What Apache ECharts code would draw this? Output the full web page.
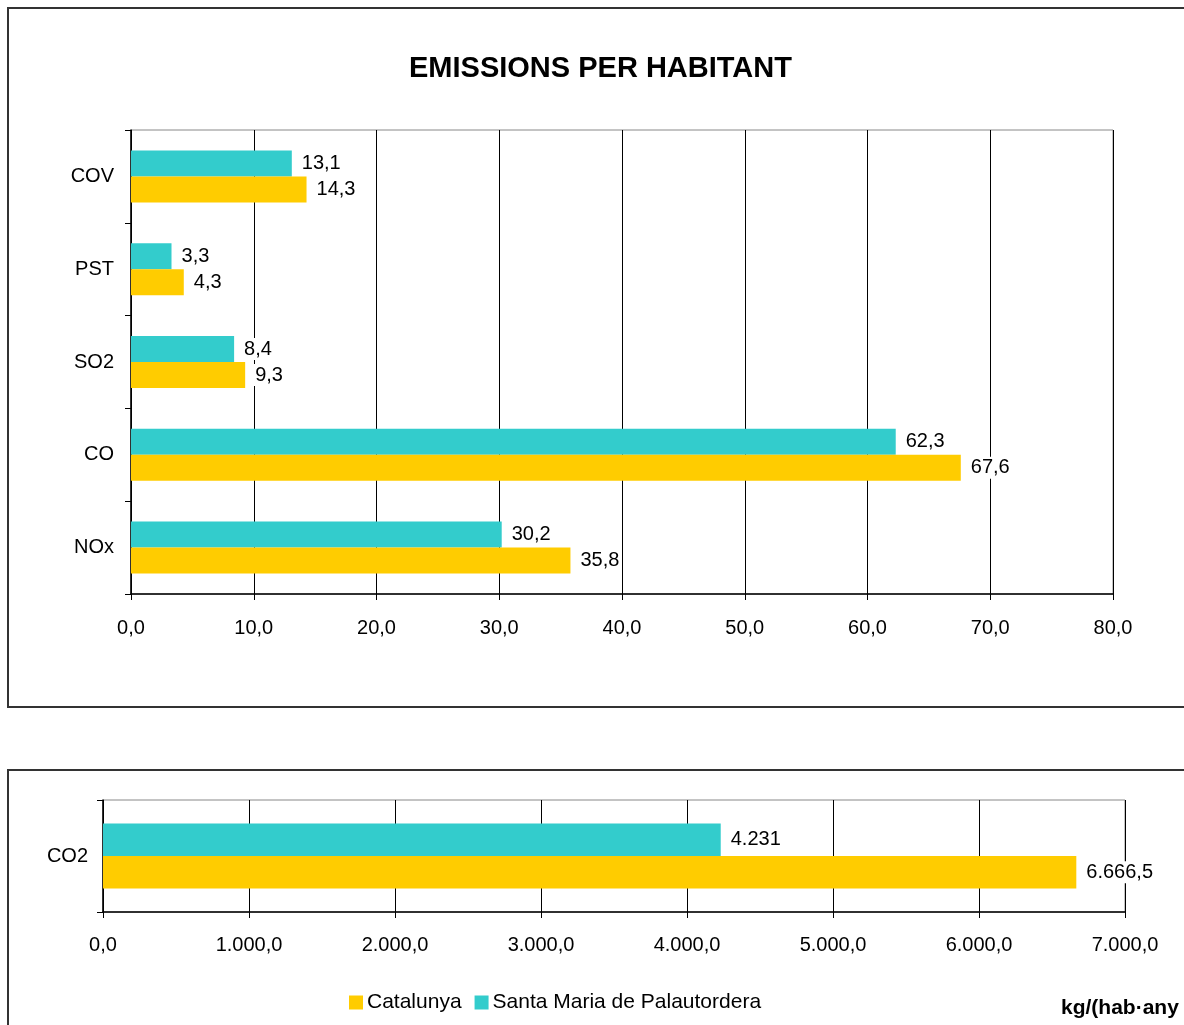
<!DOCTYPE html>
<html><head><meta charset="utf-8">
<script src="https://cdn.jsdelivr.net/npm/echarts@6/dist/echarts.min.js"></script>
<style>html,body{margin:0;padding:0;background:#fff;}#c{width:1184px;height:1025px;}</style>
</head><body><div id="c"></div>
<script>
const categories = ['NOx', 'CO', 'SO2', 'PST', 'COV'];
const catalunya = [35.8, 67.6, 9.3, 4.3, 14.3];
const santaMaria = [30.2, 62.3, 8.4, 3.3, 13.1];
const co2Categories = ['CO2'];
const co2Catalunya = [6666.5];
const co2SantaMaria = [4231];
const topTicks = {min: 0, max: 80, interval: 10};
const bottomTicks = {min: 0, max: 7000, interval: 1000};

function fmt(v, dec) {
  const neg = v < 0; v = Math.abs(v);
  let s = dec === null ? String(v) : v.toFixed(dec);
  let parts = s.split('.');
  let ip = parts[0].replace(/\B(?=(\d{3})+(?!\d))/g, '.');
  return (neg ? '-' : '') + ip + (parts[1] ? ',' + parts[1] : '');
}
const FONT = 'Liberation Sans, Arial, sans-serif';
const FS = 20;
const YELLOW = '#FFCC00', TEAL = '#33CCCC';

const chart = echarts.init(document.getElementById('c'), null, {renderer: 'canvas'});
const lbl = {show: true, position: 'right', distance: 8, color: '#000', fontSize: FS, fontFamily: FONT,
  backgroundColor: '#fff', padding: [1, 2, 1, 2], formatter: p => fmt(p.value, null)};
const tickStyle = {lineStyle: {color: '#000', width: 1}};
chart.setOption({
  animation: false,
  title: [
    {text: 'EMISSIONS PER HABITANT', left: 404, top: 49,
     textStyle: {fontSize: 29, fontWeight: 'bold', fontFamily: FONT, color: '#000'}},
    {text: 'kg/(hab·any', left: 1056, top: 993,
     textStyle: {fontSize: 21, fontWeight: 'bold', fontFamily: FONT, color: '#000'}}
  ],
  graphic: [
    {type: 'rect', shape: {x: 8, y: 8, width: 1200, height: 699}, style: {fill: null, stroke: '#333', lineWidth: 2}, z: -1},
    {type: 'rect', shape: {x: 8, y: 770, width: 1200, height: 300}, style: {fill: null, stroke: '#333', lineWidth: 2}, z: -1}
  ],
  legend: {
    data: ['Catalunya', 'Santa Maria de Palautordera'],
    left: 344, top: 987, itemWidth: 14, itemHeight: 14, itemGap: 13, icon: 'rect',
    textStyle: {fontSize: 21, fontFamily: FONT, color: '#000', padding: [0, 0, 0, -1]}
  },
  grid: [
    {left: 131, right: 71, top: 130, height: 464, show: true, borderColor: '#888', borderWidth: 1, containLabel: false},
    {left: 103, right: 59, top: 800, height: 112, show: true, borderColor: '#888', borderWidth: 1, containLabel: false}
  ],
  xAxis: [
    {gridIndex: 0, type: 'value', min: topTicks.min, max: topTicks.max, interval: topTicks.interval,
     axisLine: {show: true, lineStyle: {color: '#000', width: 1.5}},
     axisTick: {show: true, length: 6, ...tickStyle},
     splitLine: {show: true, lineStyle: {color: '#000', width: 1}},
     axisLabel: {fontSize: FS, fontFamily: FONT, color: '#000', margin: 24, formatter: v => fmt(v, 1)}},
    {gridIndex: 1, type: 'value', min: bottomTicks.min, max: bottomTicks.max, interval: bottomTicks.interval,
     axisLine: {show: true, lineStyle: {color: '#000', width: 1.5}},
     axisTick: {show: true, length: 6, ...tickStyle},
     splitLine: {show: true, lineStyle: {color: '#000', width: 1}},
     axisLabel: {fontSize: FS, fontFamily: FONT, color: '#000', margin: 23, formatter: v => fmt(v, 1)}}
  ],
  yAxis: [
    {gridIndex: 0, type: 'category', data: categories,
     axisLine: {show: true, lineStyle: {color: '#000', width: 1.5}},
     axisTick: {show: true, length: 6, ...tickStyle},
     axisLabel: {fontSize: FS, fontFamily: FONT, color: '#000', margin: 17}},
    {gridIndex: 1, type: 'category', data: co2Categories,
     axisLine: {show: true, lineStyle: {color: '#000', width: 1.5}},
     axisTick: {show: true, length: 6, ...tickStyle},
     axisLabel: {fontSize: FS, fontFamily: FONT, color: '#000', margin: 15}}
  ],
  series: [
    {name: 'Santa Maria de Palautordera', type: 'bar', xAxisIndex: 0, yAxisIndex: 0, data: santaMaria,
     itemStyle: {color: TEAL}, barGap: '0%', barCategoryGap: '44%', label: {...lbl, formatter: p => fmt(p.value, 1)}},
    {name: 'Catalunya', type: 'bar', xAxisIndex: 0, yAxisIndex: 0, data: catalunya,
     itemStyle: {color: YELLOW}, barGap: '0%', barCategoryGap: '44%', label: {...lbl, formatter: p => fmt(p.value, 1)}},
    {name: 'Santa Maria de Palautordera', type: 'bar', xAxisIndex: 1, yAxisIndex: 1, data: co2SantaMaria,
     itemStyle: {color: TEAL}, barGap: '0%', barCategoryGap: '42%', label: {...lbl}},
    {name: 'Catalunya', type: 'bar', xAxisIndex: 1, yAxisIndex: 1, data: co2Catalunya,
     itemStyle: {color: YELLOW}, barGap: '0%', barCategoryGap: '42%', label: {...lbl}}
  ]
});
</script></body></html>
